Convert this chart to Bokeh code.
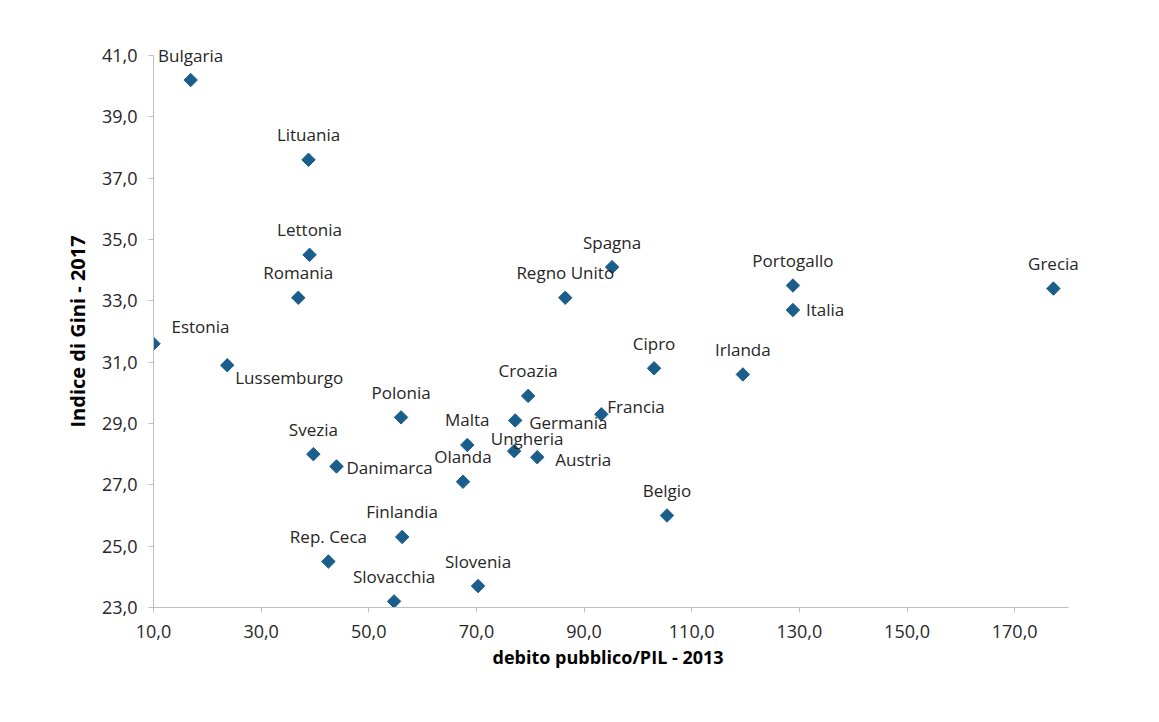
import math
from bokeh.plotting import figure
from bokeh.models import ColumnDataSource, FixedTicker, CustomJSTickFormatter, Range1d, LabelSet, Title
from bokeh.core.properties import value
from bokeh.embed import file_html
from bokeh.resources import INLINE

# ---- data ----
countries = ["Bulgaria", "Lituania", "Lettonia", "Romania", "Estonia", "Lussemburgo",
             "Spagna", "Regno Unito", "Portogallo", "Italia", "Grecia", "Cipro",
             "Irlanda", "Croazia", "Francia", "Polonia", "Malta", "Germania",
             "Ungheria", "Austria", "Svezia", "Danimarca", "Olanda", "Belgio",
             "Finlandia", "Rep. Ceca", "Slovenia", "Slovacchia"]
debt_2013 = [16.9, 38.8, 39.0, 36.9, 10.0, 23.7,
             95.2, 86.5, 128.8, 128.8, 177.2, 103.0,
             119.5, 79.6, 93.2, 56.0, 68.3, 77.2,
             77.0, 81.3, 39.7, 44.0, 67.5, 105.4,
             56.2, 42.5, 70.3, 54.7]
gini_2017 = [40.2, 37.6, 34.5, 33.1, 31.6, 30.9,
             34.1, 33.1, 33.5, 32.7, 33.4, 30.8,
             30.6, 29.9, 29.3, 29.2, 28.3, 29.1,
             28.1, 27.9, 28.0, 27.6, 27.1, 26.0,
             25.3, 24.5, 23.7, 23.2]
x_ticks = [10, 30, 50, 70, 90, 110, 130, 150, 170]
y_ticks = [23, 25, 27, 29, 31, 33, 35, 37, 39, 41]
x_axis_span = (10, 180)
y_axis_span = (23, 41)
x_title = "debito pubblico/PIL -  2013"
y_title = "Indice di Gini - 2017"

# label placement (screen-pixel offsets, style only)
placement = {
    "Estonia": (18, -17, "left"),
    "Lussemburgo": (8, 12, "left"),
    "Italia": (13, -1, "left"),
    "Francia": (6, -8, "left"),
    "Germania": (14, 2, "left"),
    "Ungheria": (13, -13, "center"),
    "Austria": (18, 2, "left"),
    "Danimarca": (10, 1, "left"),
}
xo, yo, al = [], [], []
for c in countries:
    dx, dy, a = placement.get(c, (0, -25, "center"))
    xo.append(dx); yo.append(-dy); al.append(a)

src = ColumnDataSource(dict(x=debt_2013, y=gini_2017, name=countries, xo=xo, yo=yo, al=al))

FONT = "Open Sans"
TXT = "#262626"
AX = "#bfbfbf"
W, H = 1155, 718

# axis area in pixels: x 10 at px 153, 180 at px 1068; y 23 at px 607, 41 at px 55
AX_L, AX_R, AX_T, AX_B = 153, 1068, 55, 607
PX_X = (AX_R - AX_L) / (x_axis_span[1] - x_axis_span[0])
PX_Y = (AX_B - AX_T) / (y_axis_span[1] - y_axis_span[0])
FRAME_TOP, FRAME_RIGHT = 15, 1150
x_end = x_axis_span[0] + (FRAME_RIGHT - AX_L) / PX_X
y_end = y_axis_span[0] + (AX_B - FRAME_TOP) / PX_Y

p = figure(width=W, height=H, output_backend="svg", toolbar_location=None,
           x_range=Range1d(x_axis_span[0], x_end), y_range=Range1d(y_axis_span[0], y_end),
           min_border_left=AX_L, min_border_right=W - FRAME_RIGHT, min_border_top=FRAME_TOP,
           min_border_bottom=H - AX_B)
p.outline_line_color = None
p.xgrid.visible = False
p.ygrid.visible = False
p.background_fill_color = "white"
p.border_fill_color = "white"

fmt = CustomJSTickFormatter(code="return tick.toFixed(1).replace('.', ',');")
for ax, ticks, span in ((p.xaxis[0], x_ticks, x_axis_span), (p.yaxis[0], y_ticks, y_axis_span)):
    ax.ticker = FixedTicker(ticks=ticks)
    ax.bounds = span
    ax.formatter = fmt
    ax.axis_line_color = AX
    ax.major_tick_line_color = AX
    ax.major_tick_out = 5
    ax.major_tick_in = 0
    ax.minor_tick_line_color = None
    ax.major_label_text_font = FONT
    ax.major_label_text_font_size = "18px"
    ax.major_label_text_color = TXT

p.xaxis.major_label_standoff = 12
p.yaxis.major_label_standoff = 11

# axis titles: placed from the frame edge (the frame is larger than the axes)
xt = Title(text=x_title, align="left", offset=492 - AX_L, standoff=4,
           text_font=FONT, text_font_style="bold", text_font_size="18px", text_color="black")
yt = Title(text=y_title, align="left", offset=AX_B - 427, standoff=15,
           text_font=FONT, text_font_style="bold", text_font_size="20px", text_color="black")
p.add_layout(xt, "below")
p.add_layout(yt, "left")

p.scatter("x", "y", source=src, marker="square", size=9.5, angle=math.pi / 4,
          fill_color="#1b5e8c", line_color="#1b5e8c")
labels = LabelSet(x="x", y="y", text="name", source=src, x_offset="xo", y_offset="yo",
                  text_align="al", text_baseline="middle",
                  text_font=value(FONT), text_font_size="17px", text_color=TXT)
p.add_layout(labels)

open("out.html", "w").write(file_html(p, INLINE))
